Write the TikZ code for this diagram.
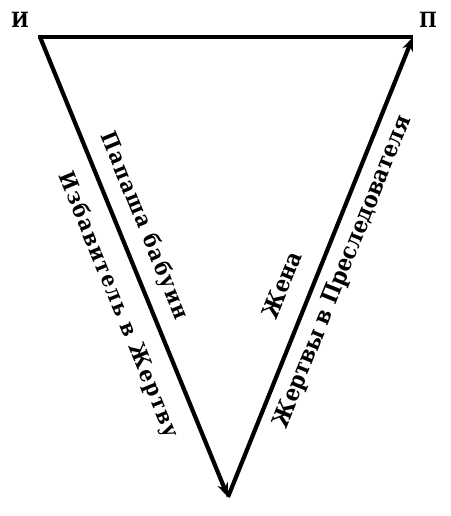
\documentclass[tikz,border=0pt]{standalone}
\usepackage{fontspec}
\setmainfont{DejaVu Serif}
\newfontfamily\serifc{DejaVu Serif Condensed}
\newfontfamily\serifs{DejaVu Serif Condensed}[LetterSpace=8]
\usetikzlibrary{arrows.meta}
\begin{document}
\begin{tikzpicture}[x=1pt,y=-1pt,
  edge/.style={line width=4.2pt},
  arr/.style={edge,-{Stealth[length=14pt,width=11pt]}},
  corner/.style={font=\serifc\bfseries\fontsize{21}{21}\selectfont, inner sep=0pt},
  lblL/.style={font=\serifs\bfseries\fontsize{22}{22}\selectfont, inner sep=0pt, rotate=-67.77},
  lblR/.style={font=\serifc\bfseries\fontsize{23.3}{23.3}\selectfont, inner sep=0pt, rotate=68.1}]
\useasboundingbox (0,0) rectangle (450,516);
\coordinate (I) at (40,37);
\coordinate (P) at (413,37);
\coordinate (B) at (228,497);
\draw[edge] (38,37) -- (P);
\draw[arr] (I) -- (B);
\draw[arr] (B) -- (P);
\node[corner] (lI) at (20,20) {И};
\node[corner] (lP) at (428,20) {П};
\node[lblL] (t1) at (144,226) {Папаша бабуин};
\node[lblL] (t2) at (118,305) {Избавитель в Жертву};
\node[lblR] (t3) at (282,285) {Жена};
\node[lblR] (t4) at (343,272) {Жертвы в Преследователя};
\end{tikzpicture}
\end{document}
